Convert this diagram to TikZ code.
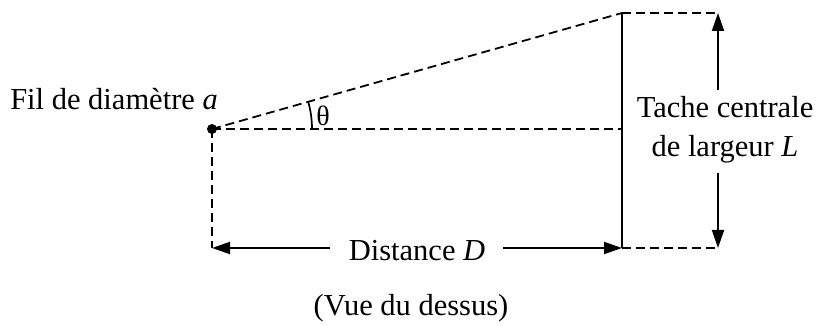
\documentclass[tikz,border=0pt]{standalone}
\usepackage{fontspec}
\setmainfont{Liberation Serif}
\usetikzlibrary{arrows.meta}
\begin{document}
\begin{tikzpicture}[x=1pt,y=-1pt,
  dashl/.style={draw, line width=1.8pt, dash pattern=on 9pt off 5pt},
  solidl/.style={draw, line width=1.9pt},
  arr/.style={solidl, -{Triangle[length=18pt,width=12pt]}},
  lbl/.style={font=\fontsize{30.5}{38}\selectfont, inner sep=0pt, align=center}]
\useasboundingbox (0,0) rectangle (820,326);
% points
\coordinate (O) at (212,129);
\coordinate (T) at (622,13);
\coordinate (M) at (622,129);
\coordinate (B) at (622,248);
\coordinate (TR) at (718,13);
\coordinate (BR) at (718,248);
\coordinate (BL) at (212,248);
% dot
\fill (O) circle (5pt);
% dashed lines
\draw[dashl] (O) -- (T);
\draw[dashl] (O) -- (M);
\draw[dashl] (T) -- (TR);
\draw[dashl] (B) -- (BR);
\draw[dashl] (O) -- (BL);
% screen
\draw[solidl] (T) -- (B);
% labels
\node[lbl, anchor=base east] (fil) at (218,110) {Fil de diamètre \textit{a}};
\node[lbl, anchor=base] (tache) at (725,118) {Tache centrale};
\node[lbl, anchor=base] (larg) at (725,157) {de largeur \textit{L}};
\node[lbl, anchor=base] (dist) at (417,260) {Distance \textit{D}};
\node[lbl, anchor=base] (vue) at (411,315) {(Vue du dessus)};
\node[font=\fontsize{28}{32}\selectfont, inner sep=0pt] (theta) at (323,116) {θ};
% angle arc
\draw[line width=1.7pt] ([shift={(0:100)}]O) arc[start angle=0, end angle=-15.8, radius=100];
% arrows
\coordinate (a1) at (718,90);
\coordinate (a2) at (718,173);
\draw[arr] (a1) -- (TR);
\draw[arr] (a2) -- (BR);
\coordinate (d1) at (330,248);
\coordinate (d2) at (503,248);
\draw[arr] (d1) -- (BL);
\draw[arr] (d2) -- (B);
\end{tikzpicture}
\end{document}
